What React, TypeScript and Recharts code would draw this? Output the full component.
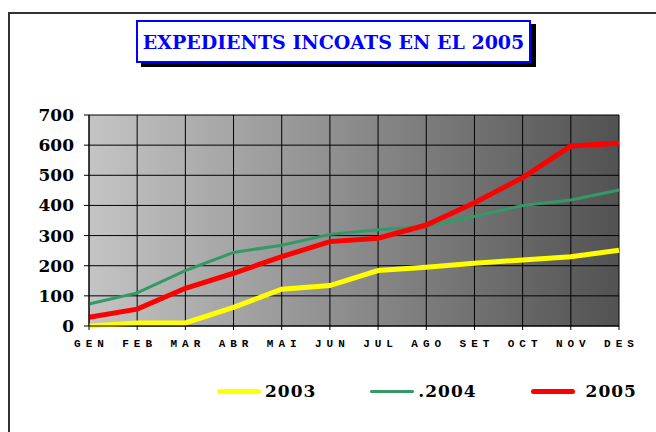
import React from 'react';
import { LineChart, Line, XAxis, YAxis, CartesianGrid } from 'recharts';

const months = ['GEN', 'FEB', 'MAR', 'ABR', 'MAI', 'JUN', 'JUL', 'AGO', 'SET', 'OCT', 'NOV', 'DES'];
const values2003 = [0, 10, 10, 62, 122, 134, 184, 195, 208, 219, 230, 251];
const values2004 = [73, 110, 184, 244, 268, 304, 319, 330, 363, 400, 418, 451];
const values2005 = [29, 56, 125, 175, 230, 280, 291, 335, 409, 492, 597, 606];
const yTicks = [0, 100, 200, 300, 400, 500, 600, 700];

const series = [
  { key: 'y2003', label: '2003', color: '#ffff00', width: 5 },
  { key: 'y2004', label: '.2004', color: '#339966', width: 3 },
  { key: 'y2005', label: '2005', color: '#ff0000', width: 5 },
];

const data = months.map((m, i) => ({
  month: m,
  y2003: values2003[i],
  y2004: values2004[i],
  y2005: values2005[i],
}));

const MonthTick = ({ x, y, payload }: any) => (
  <text
    x={x + 2.5}
    y={y}
    dy="0.71em"
    textAnchor="middle"
    fill="#000"
    style={{ fontFamily: '"Liberation Mono", monospace', fontSize: 11, fontWeight: 'bold', letterSpacing: 5 }}
  >
    {payload.value}
  </text>
);

const App: React.FC = () => {
  return (
    <div style={{ position: 'absolute', left: 0, top: 0, width: 656, height: 432, overflow: 'hidden', background: '#fff' }}>
      <div style={{ position: 'absolute', left: 8, top: 12, width: 720, height: 500, border: '2px solid #333', boxSizing: 'border-box' }} />

      <div
        style={{
          position: 'absolute',
          left: 136,
          top: 20,
          width: 395,
          height: 43,
          boxSizing: 'border-box',
          border: '2px solid #0000ff',
          background: '#fff',
          boxShadow: '5px 4px 0 #000',
          display: 'flex',
          alignItems: 'center',
          justifyContent: 'center',
          color: '#0000ff',
          fontFamily: '"DejaVu Serif", serif',
          fontWeight: 'bold',
          fontSize: 19,
          whiteSpace: 'nowrap',
        }}
      >
        EXPEDIENTS INCOATS EN EL 2005
      </div>

      <div style={{ position: 'absolute', left: 0, top: 0 }}>
        <LineChart width={656} height={432} data={data} margin={{ top: 115, right: 37, left: 29, bottom: 76 }}>
          <defs>
            <linearGradient id="bgGrad" x1="0" y1="0" x2="1" y2="0">
              <stop offset="0%" stopColor="#c4c4c4" />
              <stop offset="100%" stopColor="#525252" />
            </linearGradient>
          </defs>
          <CartesianGrid stroke="#000" strokeWidth={1} fill="url(#bgGrad)" fillOpacity={1} />
          <XAxis
            dataKey="month"
            height={30}
            stroke="#000"
            tickSize={4}
            tickMargin={9}
            interval={0}
            tick={<MonthTick />}
          />
          <YAxis
            width={60}
            domain={[0, 700]}
            ticks={yTicks}
            stroke="#000"
            tickSize={5}
            tickMargin={10}
            tick={{ fill: '#000', fontSize: 17, fontWeight: 'bold', fontFamily: '"DejaVu Serif", serif' }}
          />
          {series.map(s => (
            <Line
              key={s.key}
              type="linear"
              dataKey={s.key}
              stroke={s.color}
              strokeWidth={s.width}
              dot={false}
              activeDot={false}
              isAnimationActive={false}
            />
          ))}
        </LineChart>
      </div>

      <div style={{ position: 'absolute', left: 217, top: 380, display: 'flex', alignItems: 'center', gap: 54, height: 22 }}>
        {series.map((s, i) => (
          <div key={s.key} style={{ display: 'flex', alignItems: 'center' }}>
            <div style={{ width: 44, height: s.width, background: s.color, borderRadius: 3 }} />
            <span
              style={{
                marginLeft: i === 2 ? 11 : 4,
                fontFamily: '"DejaVu Serif", serif',
                fontWeight: 'bold',
                fontSize: 17,
                letterSpacing: 1,
                color: '#000',
              }}
            >
              {s.label}
            </span>
          </div>
        ))}
      </div>
    </div>
  );
};

export default App;
